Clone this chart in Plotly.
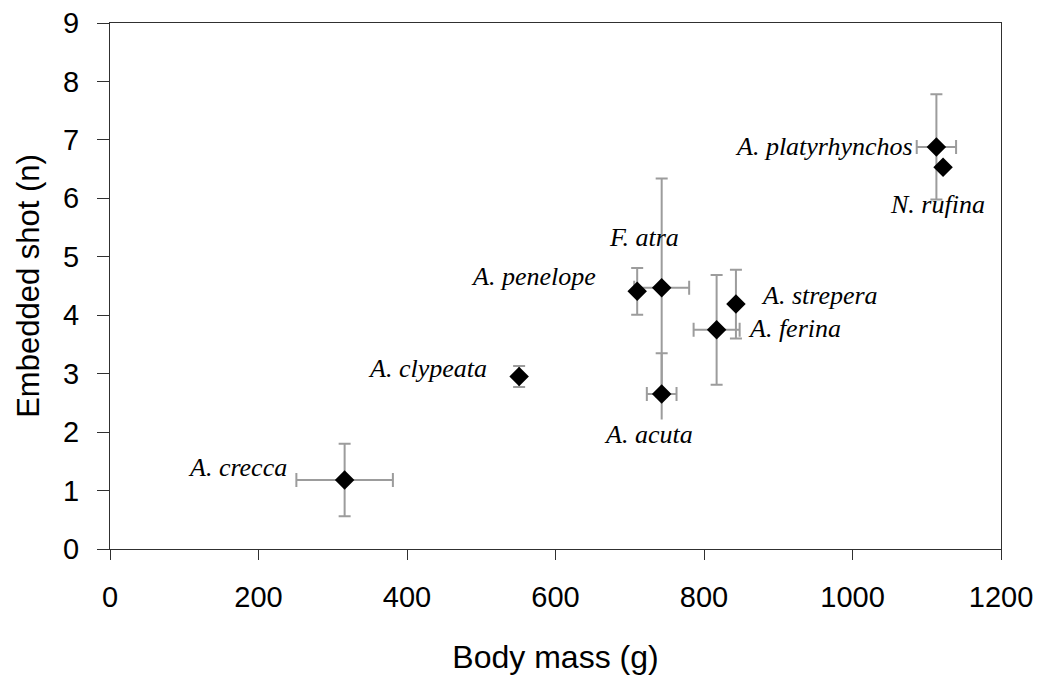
import plotly.graph_objects as go

species = ["A. crecca", "A. clypeata", "A. penelope", "F. atra", "A. acuta",
           "A. ferina", "A. strepera", "A. platyrhynchos", "N. rufina"]
body_mass = [316, 551, 710, 743, 743, 817, 843, 1113, 1122]
body_mass_err = [65, 0, 0, 37, 20, 31, 0, 26.5, 0]
shot = [1.18, 2.95, 4.41, 4.47, 2.65, 3.75, 4.19, 6.88, 6.53]
shot_err = [0.62, 0.18, 0.40, 1.87, 0.70, 0.94, 0.59, 0.90, 0.0]

x_ticks = [0, 200, 400, 600, 800, 1000, 1200]
y_ticks = [0, 1, 2, 3, 4, 5, 6, 7, 8, 9]

# label placement (pixel offsets from each point, anchor)
label_style = {
    "A. crecca": (-57, 13, "right"),
    "A. clypeata": (-31, 8, "right"),
    "A. penelope": (-40, 15, "right"),
    "F. atra": (-18, 50, "center"),
    "A. acuta": (-13, -40, "center"),
    "A. ferina": (30, 1, "left"),
    "A. strepera": (24, 9, "left"),
    "A. platyrhynchos": (-22, 0, "right"),
    "N. rufina": (-6, -37, "center"),
}

err_color = "#9c9c9c"
axis_color = "#303030"

fig = go.Figure()
fig.add_trace(go.Scatter(
    x=body_mass, y=shot, mode="markers",
    marker=dict(size=1, color="rgba(0,0,0,0)"),
    error_x=dict(type="data", array=body_mass_err, color=err_color, thickness=2, width=7),
    error_y=dict(type="data", array=shot_err, color=err_color, thickness=2, width=6),
    hoverinfo="skip", showlegend=False,
))
fig.add_trace(go.Scatter(
    x=body_mass, y=shot, mode="markers",
    marker=dict(symbol="diamond", size=15, color="black", line=dict(width=0)),
    text=species, showlegend=False,
))

for name, xm, ys in zip(species, body_mass, shot):
    dx, dy, anchor = label_style[name]
    fig.add_annotation(
        x=xm, y=ys, text=name, showarrow=False,
        xshift=dx, yshift=dy, xanchor=anchor, yanchor="middle",
        font=dict(family="Liberation Serif", size=26, color="black", style="italic"),
        bgcolor="white" if name == "A. acuta" else "rgba(0,0,0,0)",
        borderpad=0,
    )

fig.update_layout(
    width=1040, height=675,
    margin=dict(l=110, r=39, t=23, b=126),
    paper_bgcolor="white", plot_bgcolor="white",
    font=dict(family="Liberation Sans, Arial", color="black"),
)
fig.update_xaxes(
    range=[0, 1200], tickvals=x_ticks, ticktext=[str(v) for v in x_ticks],
    showgrid=False, zeroline=False, automargin=False,
    showline=True, linecolor=axis_color, linewidth=1, mirror=True,
    ticks="outside", ticklen=10, tickcolor=axis_color, tickwidth=1,
    tickfont=dict(size=29), ticklabelstandoff=12,
    title=dict(text="Body mass (g)", font=dict(size=32), standoff=35),
)
fig.update_yaxes(
    range=[0, 9], tickvals=y_ticks, ticktext=[str(v) for v in y_ticks],
    showgrid=False, zeroline=False, automargin=False,
    showline=True, linecolor=axis_color, linewidth=1, mirror=True,
    ticks="outside", ticklen=12, tickcolor=axis_color, tickwidth=1,
    tickfont=dict(size=29), ticklabelstandoff=12,
    title=dict(text="Embedded shot (n)", font=dict(size=31), standoff=14),
)

fig.write_html("out.html")
